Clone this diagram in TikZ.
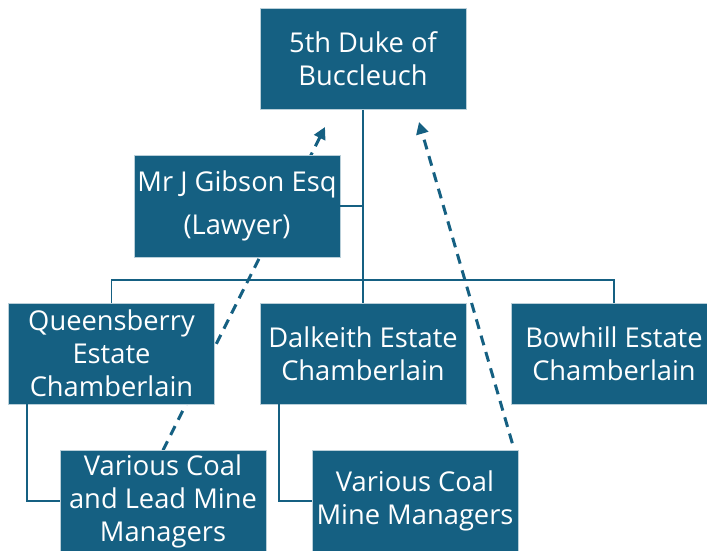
\documentclass[tikz,border=0pt]{standalone}
\usepackage{fontspec}
\setmainfont{Open Sans}
\usetikzlibrary{arrows.meta,positioning,backgrounds}
\definecolor{estateblue}{RGB}{21,96,130}

\begin{document}
\begin{tikzpicture}[x=1pt, y=-1pt,
    post/.style={rectangle, fill=estateblue, draw=white!70!estateblue,
        line width=0.6pt, text=white, minimum width=206pt, minimum height=101pt,
        align=center, inner sep=2pt, font=\fontsize{27.3}{33}\selectfont},
    link/.style={estateblue, line width=1.6pt},
    % dashed reporting lines that skip the chamberlains
    report/.style={estateblue, line width=3pt, dash pattern=on 10pt off 7pt,
        -{Triangle[length=12pt, width=12pt]}}
]
    \useasboundingbox (0,0) rectangle (707,551);
    \clip (0,0) rectangle (707,551);

    % ---- Duke and lawyer ----
    \node[post] (duke) at (363,59) {5th Duke of\\Buccleuch};
    \node[post, minimum height=102pt] (gibson) at (237,206)
        {Mr J Gibson Esq\\[10pt](Lawyer)};

    % ---- Chamberlains ----
    \node[post] (queens)   at (111.5,353.5) {Queensberry\\Estate\\Chamberlain};
    \node[post] (dalkeith) at (363,353.5)   {Dalkeith Estate\\Chamberlain};
    \node[post] (bowhill)  at (614,353.5)   {Bowhill Estate\\Chamberlain};

    % ---- Mine managers ----
    \node[post] (coallead) at (163,501) {Various Coal\\and Lead Mine\\Managers};
    \node[post] (coalmine) at (415,501) {Various Coal\\Mine Managers};

    \coordinate (bus) at (363,280);
    \coordinate (tipgib) at (325,127);
    \coordinate (tipduke) at (419,122);

    % ---- Solid lines ----
    \draw[link] (duke.south) -- (bus);
    \draw[link] (queens.north) |- (bus) -| (bowhill.north);
    \draw[link] (dalkeith.north) -- (bus);
    \draw[link] (gibson.east) -- (gibson.east -| bus);
    \draw[link] ([xshift=19pt]queens.south west) |- (coallead.west);
    \draw[link] ([xshift=19pt]dalkeith.south west) |- (coalmine.west);

    % ---- Dashed lines ----
    \begin{scope}[on background layer]
        \draw[report] (coallead.north) -- (tipgib);
    \end{scope}
    \draw[report] ([xshift=-6pt, yshift=7pt]coalmine.north east) -- (tipduke);
\end{tikzpicture}
\end{document}
